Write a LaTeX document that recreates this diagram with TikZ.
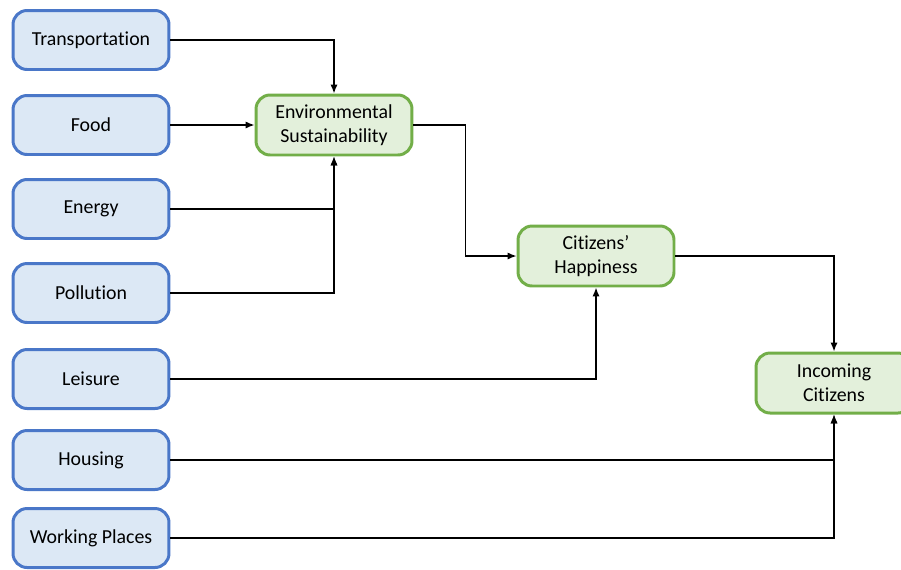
\documentclass[tikz,border=0pt]{standalone}
\usepackage{fontspec}
\setmainfont[Ligatures=NoCommon]{Carlito}
\usepackage{tikz}
\usetikzlibrary{arrows.meta}
\usetikzlibrary{positioning}
\definecolor{inblue}{HTML}{DCE8F5}
\definecolor{inblueline}{HTML}{4A77C8}
\definecolor{outgreen}{HTML}{E3F0DB}
\definecolor{outgreenline}{HTML}{72AE48}
\tikzset{
  factor/.style={draw=inblueline,fill=inblue,line width=1.7pt,rounded corners=8pt,
    minimum width=3.12cm,minimum height=1.18cm,align=center,font=\fontsize{11.3}{13.5}\selectfont},
  outcome/.style={draw=outgreenline,fill=outgreen,line width=1.7pt,rounded corners=8pt,
    minimum width=3.12cm,minimum height=1.2cm,align=center,font=\fontsize{11.3}{13.5}\selectfont},
  link/.style={line width=0.8pt,-{Latex[length=5pt,width=4pt]}}
}
\newcommand\factorlabels{trans/Transportation/40,food/Food/125,energy/Energy/209,
  pollution/Pollution/293,leisure/Leisure/379,housing/Housing/460,work/Working Places/538}

\begin{document}
\begin{tikzpicture}[x=0.02cm,y=-0.02cm]
  % page frame
  \clip (0,0) rectangle (901,569);

  \foreach \key/\name/\ypos in \factorlabels {
    \node[factor] (\key) at (91,\ypos) {\name};
  }

  \node[outcome] (env) at (334,125) {Environmental\\Sustainability};
  \node[outcome] (happy) at (596,256) {Citizens’\\Happiness};
  \node[outcome] (incoming) at (834,383) {Incoming\\Citizens};

  \draw[link] (trans.east) -| (env.north);
  \draw[link] (food) -- (env);
  \draw[link] (energy.east) -| (env.south);
  \draw[link] (pollution.east) -| (env.south);
  \draw[link] (env.east) -- ++(52,0) |- (happy.west);
  \draw[link] (leisure.east) -| (happy.south);
  \draw[link] (happy.east) -| (incoming.north);
  \draw[link] (housing.east) -| (incoming.south);
  \draw[link] (work.east) -| (incoming.south);

\end{tikzpicture}
\end{document}
